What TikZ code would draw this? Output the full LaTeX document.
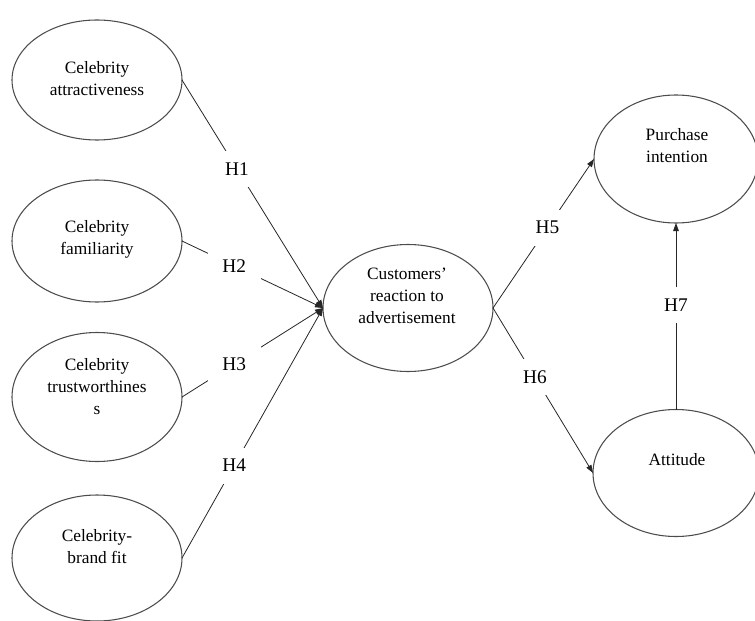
\documentclass[tikz,border=0pt]{standalone}
\usepackage{fontspec}
\setmainfont{Liberation Serif}
\newfontfamily\tnrfont{Liberation Serif}
\usetikzlibrary{arrows.meta,shapes.geometric}
\begin{document}
\begin{tikzpicture}[x=0.75pt,y=-0.75pt,
  oval/.style={ellipse,draw=black!70,line width=0.8pt,inner sep=0pt,outer sep=0pt},
  txt/.style={align=center,font=\tnrfont\fontsize{13}{16.5}\selectfont,inner sep=0pt},
  hyp/.style={fill=white,font=\tnrfont\fontsize{14.5}{16}\selectfont,inner sep=0pt,minimum width=40pt,minimum height=27pt},
  link/.style={draw=black!85,line width=0.6pt,-{Triangle[length=6pt,width=4.2pt]}}]
\useasboundingbox (0,0) rectangle (755,620);
% ovals
\node[oval,minimum width=127.5pt,minimum height=90pt] (a1) at (97,80) {};
\node[oval,minimum width=127.5pt,minimum height=91.5pt] (a2) at (97,241) {};
\node[oval,minimum width=127.5pt,minimum height=96.75pt] (a3) at (97,397) {};
\node[oval,minimum width=127.5pt,minimum height=94.5pt] (a4) at (97,558) {};
\node[oval,minimum width=127.5pt,minimum height=95.25pt] (c) at (408,308) {};
\node[oval,minimum width=123pt,minimum height=96pt] (p) at (676,159) {};
\node[oval,minimum width=124.5pt,minimum height=95.25pt] (t) at (676,473) {};
% texts
\node[txt] (ta1) at (97,79) {Celebrity\\attractiveness};
\node[txt] (ta2) at (97,239) {Celebrity\\familiarity};
\node[txt] (ta3) at (97,387) {Celebrity\\trustworthines\\s};
\node[txt] (ta4) at (97,547) {Celebrity-\\brand fit};
\node[txt] (tc) at (407,296) {Customers’\\reaction to\\advertisement};
\node[txt] (tp) at (677,146) {Purchase\\intention};
\node[txt] (tt) at (677,460) {Attitude};
% connectors
\draw[link] (a1.east) -- node[hyp,pos=0.39] (h1) {H1} (c.west);
\draw[link] (a2.east) -- node[hyp,pos=0.37] (h2) {H2} (c.west);
\draw[link] (a3.east) -- node[hyp,pos=0.37] (h3) {H3} (c.west);
\draw[link] (a4.east) -- node[hyp,pos=0.37] (h4) {H4} (c.west);
\draw[link] (c.east) -- node[hyp,pos=0.54] (h5) {H5} (p.west);
\draw[link] (c.east) -- node[hyp,pos=0.42] (h6) {H6} (t.west);
\draw[link] (t.north) -- node[hyp,pos=0.56] (h7) {H7} (p.south);
\end{tikzpicture}
\end{document}
